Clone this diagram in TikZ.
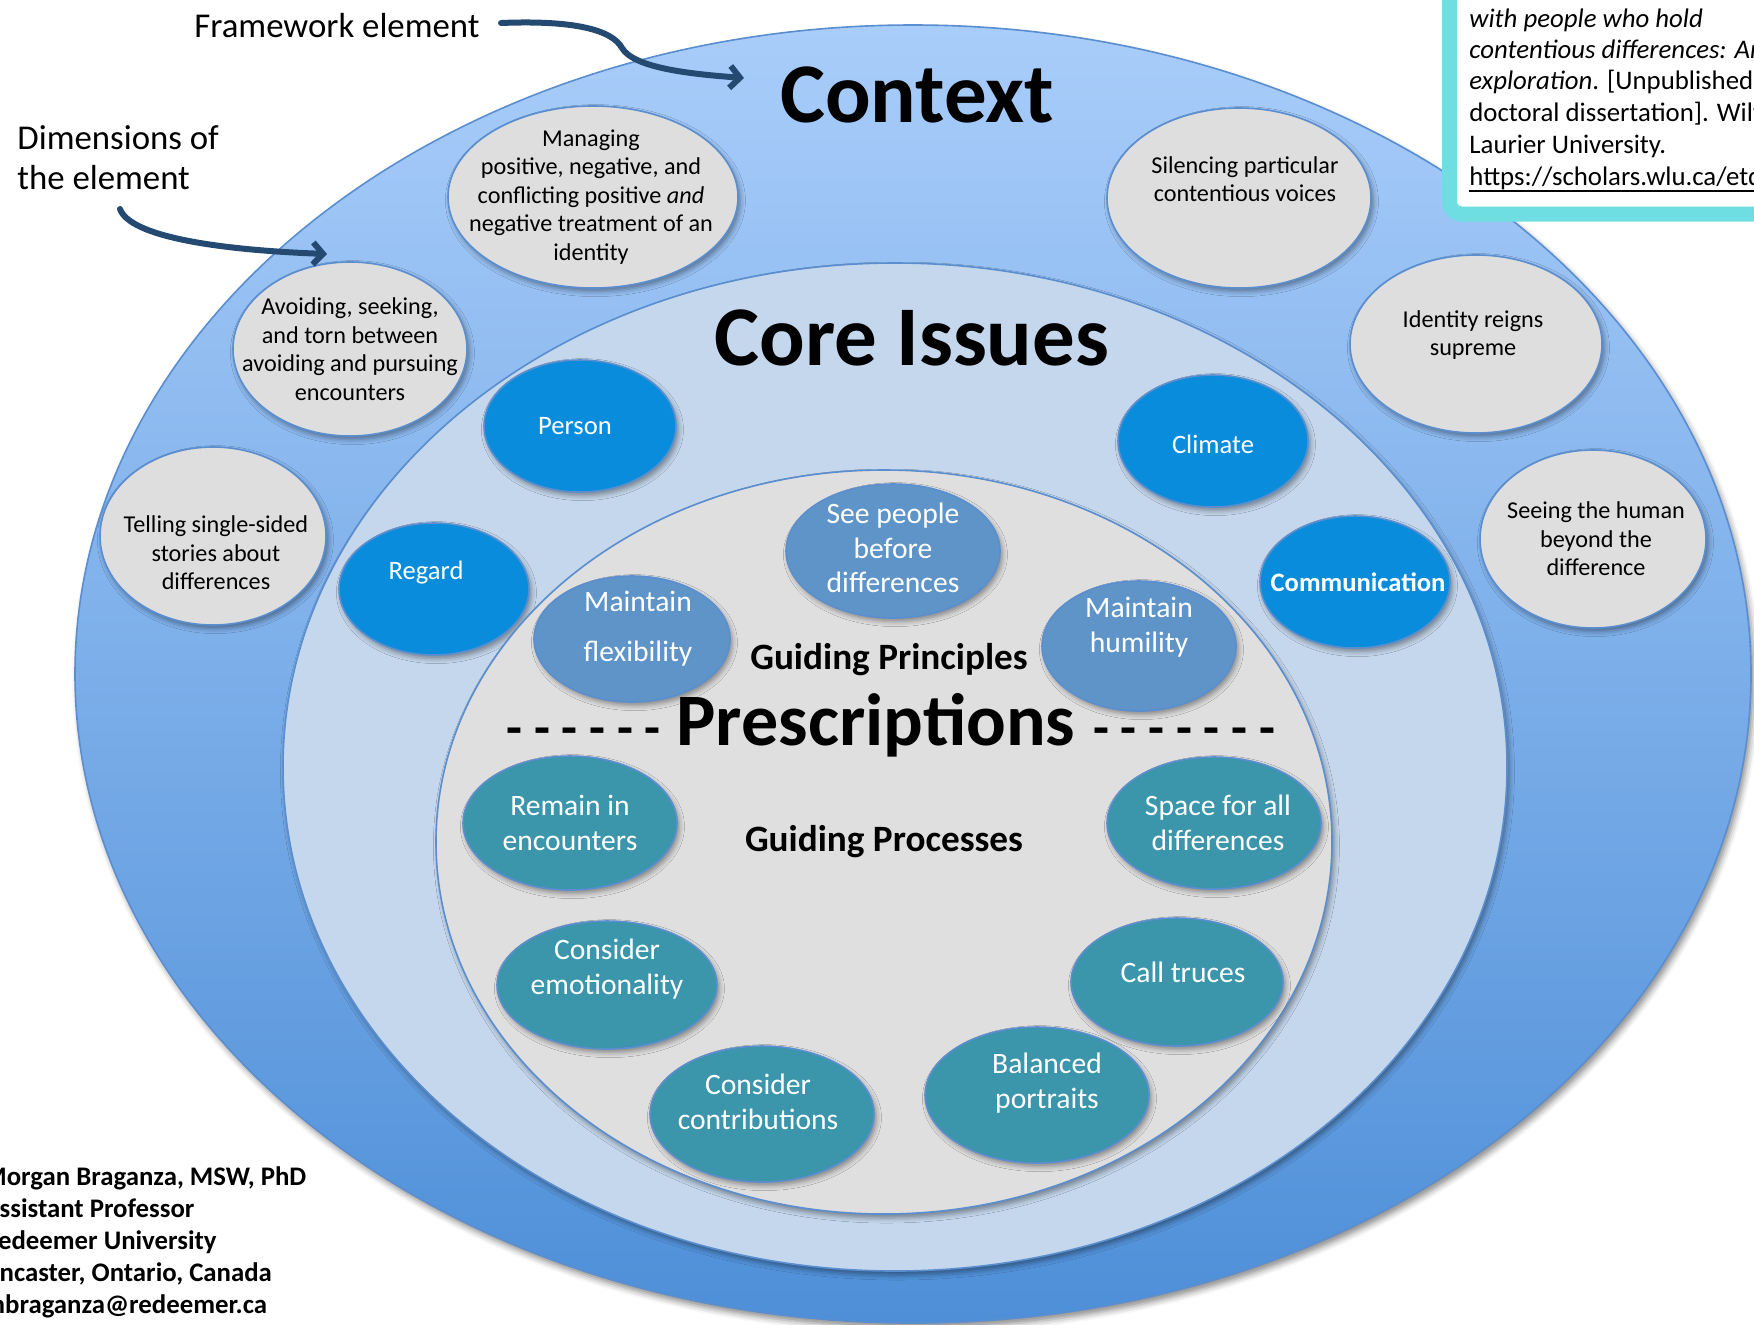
\documentclass[tikz,border=0pt]{standalone}
\usepackage{fontspec}
\setmainfont{Carlito}
\usetikzlibrary{shapes.geometric,shadows.blur,arrows.meta}
\definecolor{ctxtop}{HTML}{A9CDFA}
\definecolor{ctxbot}{HTML}{4E8FD8}
\definecolor{ctxline}{HTML}{5A8ECF}
\definecolor{corefill}{HTML}{C4D7EC}
\definecolor{innerfill}{HTML}{DFDFDF}
\definecolor{grayfill}{HTML}{DEDEDE}
\definecolor{blueE}{HTML}{098CDB}
\definecolor{princE}{HTML}{5E94C8}
\definecolor{procE}{HTML}{3B95AB}
\definecolor{arrowc}{HTML}{254A72}
\definecolor{cyanb}{HTML}{6EDEE2}
\begin{document}
\begin{tikzpicture}[x=0.5pt,y=-0.5pt,
  sz/.style 2 args={minimum width=#1pt, minimum height=#2pt},
  ell/.style={ellipse, inner sep=0pt, outer sep=0pt, draw=ctxline, line width=0.8pt},
  shad/.style={blur shadow={shadow xshift=1.2pt, shadow yshift=-1.8pt, shadow blur radius=2.5pt, shadow opacity=40}},
  gell/.style={ell, shad, fill=grayfill},
  bell/.style={ell, shad, fill=blueE},
  pell/.style={ell, shad, fill=princE},
  rell/.style={ell, shad, fill=procE},
  gtxt/.style={align=center, inner sep=0pt, font=\fontsize{12.1}{14.3}\selectfont},
  btxt/.style={align=center, inner sep=0pt, text=white, font=\fontsize{13.3}{16}\selectfont},
  ptxt/.style={align=center, inner sep=0pt, text=white, font=\fontsize{14.8}{17.4}\selectfont},
  bigttl/.style={inner sep=0pt, anchor=base, font=\bfseries\fontsize{42.5}{48}\selectfont},
  midttl/.style={inner sep=0pt, anchor=base, font=\bfseries\fontsize{18.6}{22}\selectfont},
  dashtxt/.style={inner sep=0pt, font=\bfseries\fontsize{26}{30}\selectfont},
  note/.style={inner sep=0pt, font=\fontsize{17.4}{20}\selectfont},
  cite/.style={inner sep=0pt, anchor=base west, font=\fontsize{13.4}{16}\selectfont},
  auth/.style={inner sep=0pt, anchor=base west, font=\bfseries\fontsize{13.4}{16}\selectfont},
  pointer/.style={draw=arrowc, line width=3pt, line cap=round, -{Straight Barb[length=5pt,width=11pt]}}
]
\useasboundingbox (0,0) rectangle (1754,1324);

% big ellipses
\node[ellipse, inner sep=0pt, draw=ctxline, line width=0.8pt, top color=ctxtop, bottom color=ctxbot,
  blur shadow={shadow xshift=1.5pt, shadow yshift=-2.5pt, shadow blur radius=3pt, shadow opacity=45},
  sz={838}{649}] (ctx) at (913,674) {};

% context dimensions
\node[gell, sz={145}{91}] (g1) at (593,197) {};
\node[gell, sz={132}{90}] (g2) at (1239,198) {};
\node[gell, sz={117}{87}] (g3) at (350,349) {};
\node[gell, sz={126}{89}] (g4) at (1476,344) {};
\node[gell, sz={113}{89}] (g5) at (213,536) {};
\node[gell, sz={113}{89}] (g6) at (1593,539) {};

\node[gtxt, xshift=-1pt] (g1t) at (g1) {Managing\\positive, negative, and\\conflicting positive \textit{and}\\negative treatment of an\\identity};
\node[gtxt, yshift=9.5pt, xshift=3pt] (g2t) at (g2) {Silencing particular\\contentious voices};
\node[gtxt] (g3t) at (g3) {Avoiding, seeking,\\and torn between\\avoiding and pursuing\\encounters};
\node[gtxt, yshift=4.5pt, xshift=-1.5pt] (g4t) at (g4) {Identity reigns\\supreme};
\node[gtxt, yshift=-8.5pt, xshift=1.5pt] (g5t) at (g5) {Telling single-sided\\stories about\\differences};
\node[gtxt, xshift=1.5pt] (g6t) at (g6) {Seeing the human\\beyond the\\difference};

% core issues
\node[ell, fill=corefill, draw=ctxline,
  blur shadow={shadow xshift=1.2pt, shadow yshift=-2pt, shadow blur radius=2.5pt, shadow opacity=40},
  sz={612}{504}] (core) at (895,767) {};

\node[bell, sz={96}{66}] (b1) at (580,426) {};
\node[bell, sz={95}{66}] (b2) at (1213,441) {};
\node[bell, sz={95}{66}] (b3) at (434,589) {};
\node[bell, sz={95}{66}] (b4) at (1355,582) {};
\node[btxt, xshift=-2.5pt] (b1t) at (b1) {Person};
\node[btxt, yshift=-1.5pt] (b2t) at (b2) {Climate};
\node[btxt, yshift=8pt, xshift=-4pt] (b3t) at (b3) {Regard};
\node[btxt, xshift=1.5pt, font=\bfseries\fontsize{13.3}{16}\selectfont] (b4t) at (b4) {Communication};

% prescriptions
\node[ell, fill=innerfill, draw=ctxline,
  blur shadow={shadow xshift=1.2pt, shadow yshift=-2pt, shadow blur radius=2.5pt, shadow opacity=40},
  sz={448}{372}] (presc) at (884,842) {};

\node[pell, sz={107}{67}] (p1) at (893,551) {};
\node[pell, sz={98}{63}] (p2) at (632,639) {};
\node[pell, sz={97}{65}] (p3) at (1139,646) {};
\node[ptxt, yshift=1.5pt] (p1t) at (p1) {See people\\before\\differences};
\node[ptxt, yshift=5pt, xshift=3pt] (p2t) at (p2) {Maintain\\[7.6pt]flexibility};
\node[ptxt, yshift=9.5pt] (p3t) at (p3) {Maintain\\humility};

\node[rell, sz={107}{67}] (r1) at (570,823) {};
\node[rell, sz={107}{66}] (r2) at (1214,823) {};
\node[rell, sz={110}{64}] (r3) at (607,985) {};
\node[rell, sz={106}{64}] (r4) at (1177,982) {};
\node[rell, sz={112}{68}] (r5) at (762,1114) {};
\node[rell, sz={112}{68}] (r6) at (1037,1095) {};
\node[ptxt] (r1t) at (r1) {Remain in\\encounters};
\node[ptxt, xshift=2pt] (r2t) at (r2) {Space for all\\differences};
\node[ptxt, yshift=8pt] (r3t) at (r3) {Consider\\emotionality};
\node[ptxt, yshift=5pt, xshift=3pt] (r4t) at (r4) {Call truces};
\node[ptxt, yshift=6pt, xshift=-2pt] (r5t) at (r5) {Consider\\contributions};
\node[ptxt, yshift=6pt, xshift=5pt] (r6t) at (r6) {Balanced\\portraits};

% titles
\node[bigttl] (tctx) at (917,122) {Context};
\node[bigttl] (tcore) at (912,365) {Core Issues};
\node[bigttl, font=\bfseries\fontsize{37}{44}\selectfont] (tpresc) at (876,745) {Prescriptions};
\node[dashtxt, anchor=base east] (dl) at ([xshift=-7.5pt]tpresc.base west) {- - - - - -};
\node[dashtxt, anchor=base west] (dr) at ([xshift=8.5pt]tpresc.base east) {- - - - - - -};
\node[midttl] (tgp) at (889,669) {Guiding Principles};
\node[midttl] (tgproc) at (884,851) {Guiding Processes};

% annotations
\node[note, anchor=base west] (fw) at (194,37) {Framework element};
\node[note, anchor=base west] (dim1) at (17,149) {Dimensions of};
\node[note, anchor=base west] (dim2) at (17,189) {the element};
\coordinate (fwstart) at (501,23);
\coordinate (fwtip) at (744,78);
\coordinate (dimstart) at (120,209);
\coordinate (dimtip) at (327,254);
\draw[pointer] (fwstart) .. controls (575,20) and (612,30) .. (622,48)
  .. controls (634,68) and (690,74) .. (fwtip);
\draw[pointer] (dimstart) .. controls (130,237) and (220,250) .. (dimtip);

% citation box
\draw[cyanb, line width=7.5pt, fill=white, rounded corners=6pt] (1449.5,-60) rectangle (1860,214);
\node[cite] (c1) at (1469,27) {\textit{with people who hold}};
\node[cite] (c2) at (1469,58) {\textit{contentious differences: An}};
\node[cite] (c3) at (1469,89) {\textit{exploration}. [Unpublished};
\node[cite] (c4) at (1469,121) {doctoral dissertation]. Wilfrid};
\node[cite] (c5) at (1469,153) {Laurier University.};
\node[cite] (c6) at (1469,185) {https://scholars.wlu.ca/etd};
\draw[line width=1.1pt] ([yshift=-3pt]c6.base west) -- ([yshift=-3pt]c6.base east);

% author
\node[auth] (a1) at (-17,1185) {Morgan Braganza, MSW, PhD};
\node[auth] (a2) at (-17,1217) {Assistant Professor};
\node[auth] (a3) at (-17,1249) {Redeemer University};
\node[auth] (a4) at (-17,1281) {Ancaster, Ontario, Canada};
\node[auth] (a5) at (-17,1313) {mbraganza@redeemer.ca};
\end{tikzpicture}
\end{document}
